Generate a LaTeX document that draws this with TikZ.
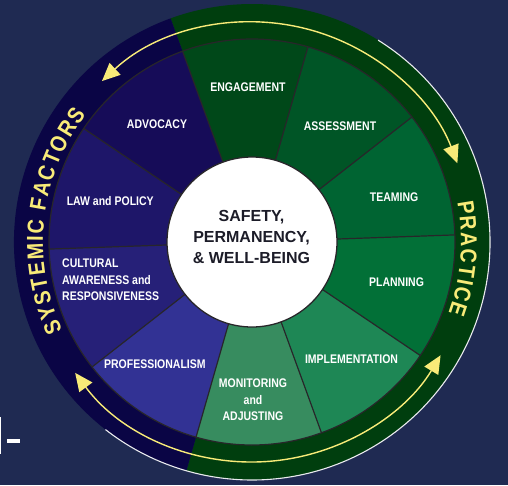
\documentclass[tikz,border=0pt]{standalone}
\usepackage{fontspec}
\setmainfont{Liberation Sans}
\newfontfamily\labelfont[FakeStretch=0.84]{Liberation Sans}
\newfontfamily\arcfont[FakeStretch=0.86]{Liberation Sans}
\usetikzlibrary{arrows.meta}
\usetikzlibrary{decorations.text}
\def\outerrad{238pt}
\def\innerrad{203pt}
\def\hubrad{85pt}
\def\arrowrad{220pt}
\def\textrad{209pt}
\definecolor{bgnavy}{RGB}{31,42,82}
\definecolor{bandnavy}{RGB}{10,5,69}
\definecolor{bandgreen}{RGB}{0,62,14}
\definecolor{engagecol}{RGB}{0,72,25}
\definecolor{assesscol}{RGB}{0,85,38}
\definecolor{teamcol}{RGB}{0,100,50}
\definecolor{plancol}{RGB}{2,112,55}
\definecolor{implcol}{RGB}{30,135,85}
\definecolor{monitorcol}{RGB}{55,140,95}
\definecolor{profcol}{RGB}{50,50,148}
\definecolor{culturecol}{RGB}{38,32,120}
\definecolor{lawcol}{RGB}{30,22,105}
\definecolor{advocol}{RGB}{22,12,88}
\definecolor{arcyellow}{RGB}{248,235,120}
\definecolor{divgray}{RGB}{40,38,42}
\definecolor{hubink}{RGB}{28,28,40}

\begin{document}
\begin{tikzpicture}
        \tikzstyle{sector label}=[text=white, font=\labelfont\bfseries\fontsize{12.5}{16.5}\selectfont, align=center, inner sep=0pt]
        \tikzstyle{hub text}=[text=hubink, font=\bfseries\fontsize{16}{21}\selectfont, align=center, inner sep=0pt]
        \tikzstyle{divider}=[draw=divgray, line width=1.2pt]
        \tikzstyle{cycle arrow}=[draw=arcyellow, line width=1.4pt, {Triangle[length=18pt,width=16pt]}-{Triangle[length=18pt,width=16pt]}]
        \tikzstyle{band text}=[decorate, decoration={text along path, text align={fit to path}}]

        % Background and frame
        \fill[bgnavy] (-252pt,-243pt) rectangle (256pt,242pt);
        \useasboundingbox (-252pt,-243pt) rectangle (256pt,242pt);
        \draw[white, line width=1.2pt] (-251.4pt,-175pt) -- (-251.4pt,-212pt);
        \fill[white] (-245pt,-197pt) rectangle (-232pt,-201pt);

        % Draw the outer band
        \fill[bandgreen] (0,0) -- (-106:\outerrad) arc[start angle=-106, end angle=110, radius=\outerrad] -- cycle;
        \fill[bandnavy] (0,0) -- (110:\outerrad) arc[start angle=110, end angle=254, radius=\outerrad] -- cycle;
        \draw[white!90!bgnavy, line width=1.1pt] (58:\outerrad) arc[start angle=58, end angle=-128, radius=\outerrad];

        % Draw the sectors
        \foreach \a/\col in {74/engagecol, 38/assesscol, 2/teamcol, -34/plancol, -70/implcol,
                             -106/monitorcol, 218/profcol, 182/culturecol, 146/lawcol, 110/advocol}
            \fill[\col] (0,0) -- (\a:\innerrad) arc[start angle=\a, end angle=\a+36, radius=\innerrad] -- cycle;
        \draw[divider] (0,0) circle[radius=\innerrad];
        \foreach \a in {2,38,...,326}
            \draw[divider] (0,0) -- (\a:\innerrad);

        % Draw the hub
        \node[circle, fill=white, draw=divgray, line width=1.3pt, minimum size=2*\hubrad, inner sep=0pt] (hub) at (0,0) {};
        \node[hub text] (hub-text) at (-0.5pt,5pt) {SAFETY,\\PERMANENCY,\\\& WELL-BEING};

        % Label the sectors
        \node[sector label] (engagement) at (91.5:155pt) {ENGAGEMENT};
        \node[sector label] (assessment) at (52.8:145.6pt) {ASSESSMENT};
        \node[sector label] (teaming) at (17.5:149pt) {TEAMING};
        \node[sector label] (planning) at (-15.5:150pt) {PLANNING};
        \node[sector label] (implementation) at (-49.6:153.6pt) {IMPLEMENTATION};
        \node[sector label] (monitoring) at (1pt,-158pt) {MONITORING\\and\\ADJUSTING};
        \node[sector label] (professionalism) at (231.5:156pt) {PROFESSIONALISM};
        \node[sector label, align=left, anchor=west] (cultural) at (-190pt,-38pt) {CULTURAL\\AWARENESS and\\RESPONSIVENESS};
        \node[sector label] (law) at (164:147.5pt) {LAW and POLICY};
        \node[sector label] (advocacy) at (129:151pt) {ADVOCACY};

        % Arrows and band titles
        \draw[cycle arrow] (133:\arrowrad) arc[start angle=133, end angle=21, radius=\arrowrad];
        \draw[cycle arrow] (216.5:\arrowrad) arc[start angle=216.5, end angle=329, radius=\arrowrad];
        \path[band text, decoration={text={|\arcfont\bfseries\fontsize{23}{23}\selectfont\color{arcyellow}|SYSTEMIC FACTORS}}]
            (205:\textrad) arc[start angle=205, end angle=142.5, radius=\textrad];
        \path[band text, decoration={text={|\arcfont\bfseries\fontsize{23}{23}\selectfont\color{arcyellow}|PRACTICE}}]
            (11:\textrad) arc[start angle=11, end angle=-20, radius=\textrad];

\end{tikzpicture}
\end{document}
